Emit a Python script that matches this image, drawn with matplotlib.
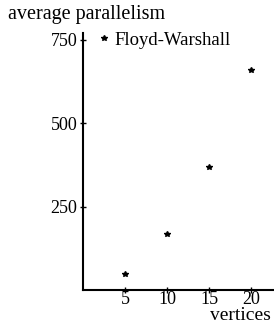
import matplotlib
matplotlib.use("Agg")
import matplotlib.pyplot as plt

vertices = [5, 10, 15, 20]
parallelism = [48, 168, 368, 659]
xticks = [5, 10, 15, 20]
yticks = [250, 500, 750]

plt.rcParams['font.family'] = ['Liberation Serif', 'DejaVu Serif']

fig = plt.figure(figsize=(2.74, 3.24), dpi=100)
ax = fig.add_axes([0.303, 0.105, 0.697, 0.793])
ax.plot(vertices, parallelism, linestyle='none', marker='*', color='black',
        markersize=4, label='Floyd-Warshall')
ax.set_xlim(0, 22.7)
ax.set_ylim(0, 770)
ax.set_xticks(xticks)
ax.set_yticks(yticks)
for s in ['top', 'right']:
    ax.spines[s].set_visible(False)
for s in ['left', 'bottom']:
    ax.spines[s].set_linewidth(1.5)
ax.tick_params(direction='inout', length=4, width=1, labelsize=13)
ax.tick_params(axis='x', pad=-1)
ax.tick_params(axis='y', pad=2)
leg = ax.legend(loc='upper left', frameon=False, fontsize=13.5, handlelength=0.5,
                handletextpad=0.3, borderaxespad=0.0, bbox_to_anchor=(0.045, 1.035))
fig.text(0.028, 0.955, 'average parallelism', fontsize=14.5, ha='left', va='center')
fig.text(0.99, 0.012, 'vertices', fontsize=14, ha='right', va='baseline')
fig.savefig('out.png', dpi=100)
